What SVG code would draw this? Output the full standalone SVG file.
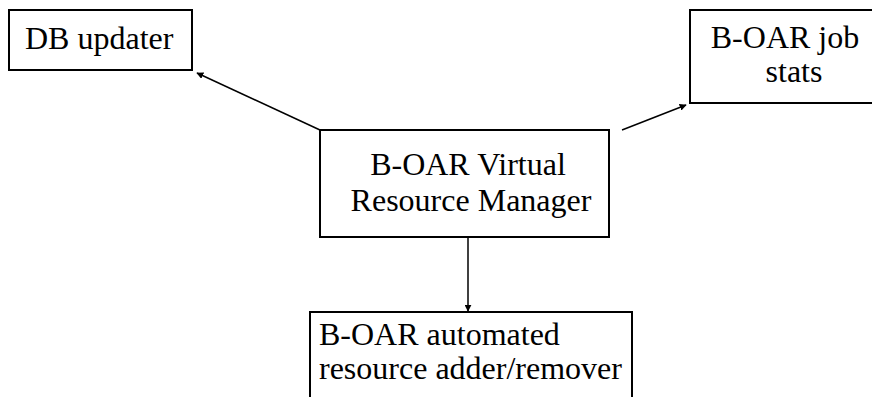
<svg xmlns="http://www.w3.org/2000/svg" width="872" height="397" viewBox="0 0 872 397">
  <style>
    .box { fill: #ffffff; stroke: #000000; stroke-width: 2; }
    .lbl { font-family: "Liberation Serif", "Times New Roman", serif; font-size: 32px; fill: #000000; }
    .conn { stroke: #000000; stroke-width: 1.5; fill: none; marker-end: url(#head); }
  </style>
  <defs>
    <marker id="head" viewBox="0 0 10 10" refX="9" refY="5" markerWidth="7" markerHeight="7" orient="auto" markerUnits="userSpaceOnUse">
      <path d="M0,0 L10,5 L0,10 Z" fill="#000000"/>
    </marker>
  </defs>
  <rect width="872" height="397" fill="#ffffff"/>

  <g id="connectors">
    <line class="conn" x1="320" y1="130" x2="197" y2="73"/>
    <line class="conn" x1="622" y1="130" x2="686" y2="105"/>
    <line class="conn" x1="468" y1="237" x2="468" y2="311"/>
  </g>

  <g id="db-updater">
    <rect class="box" x="9" y="10" width="183" height="60"/>
    <text class="lbl" x="25" y="49">DB updater</text>
  </g>

  <g id="job-stats">
    <rect class="box" x="690" y="10" width="190" height="93"/>
    <text class="lbl" x="785" y="48" text-anchor="middle">B-OAR job</text>
    <text class="lbl" x="794" y="82" text-anchor="middle">stats</text>
  </g>

  <g id="resource-manager">
    <rect class="box" x="320" y="130" width="289" height="107"/>
    <text class="lbl" x="468" y="175" text-anchor="middle">B-OAR Virtual</text>
    <text class="lbl" x="471" y="211" text-anchor="middle">Resource Manager</text>
  </g>

  <g id="adder-remover">
    <rect class="box" x="310" y="312" width="322" height="100"/>
    <text class="lbl" x="319" y="345">B-OAR automated</text>
    <text class="lbl" x="319" y="379">resource adder/remover</text>
  </g>
</svg>
